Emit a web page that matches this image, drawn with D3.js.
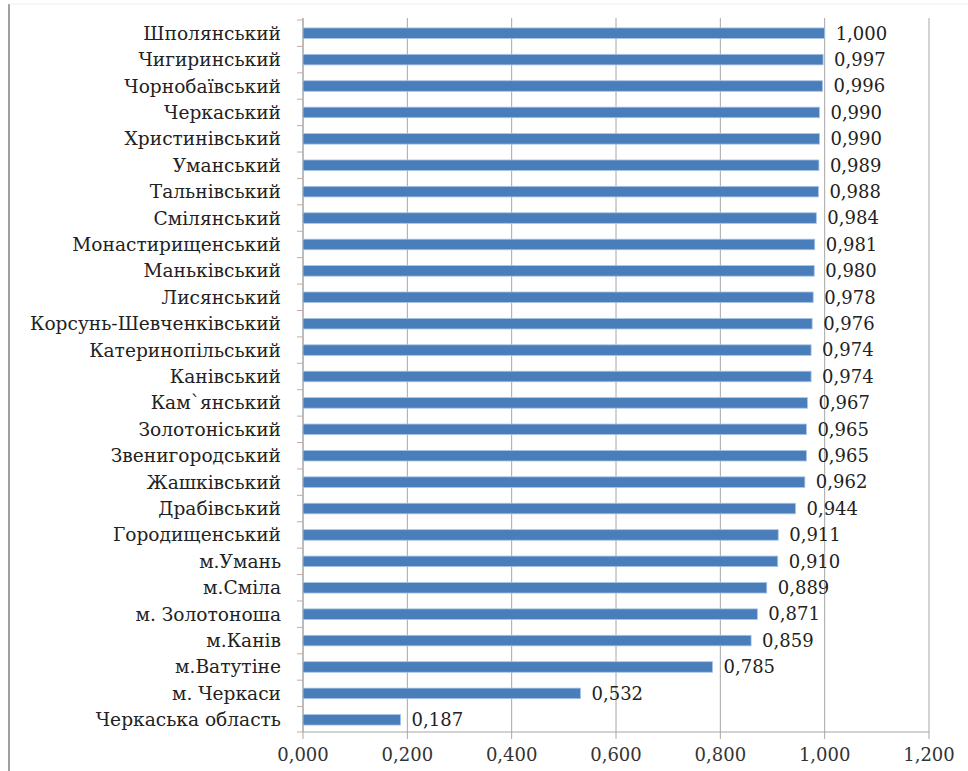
<!DOCTYPE html>
<html>
<head>
<meta charset="utf-8">
<script src="https://cdn.jsdelivr.net/npm/d3@7"></script>
<style>
  body { margin: 0; background: #fff; }
</style>
</head>
<body>
<svg id="chart" width="968" height="771"></svg>
<script>
// Districts and cities of Cherkasy region, top to bottom
const categories = [
  "Шполянський", "Чигиринський", "Чорнобаївський", "Черкаський", "Христинівський",
  "Уманський", "Тальнівський", "Смілянський", "Монастирищенський", "Маньківський",
  "Лисянський", "Корсунь-Шевченківський", "Катеринопільський", "Канівський",
  "Кам`янський", "Золотоніський", "Звенигородський", "Жашківський", "Драбівський",
  "Городищенський", "м.Умань", "м.Сміла", "м. Золотоноша", "м.Канів", "м.Ватутіне",
  "м. Черкаси", "Черкаська область"
];
const values = [
  1.000, 0.997, 0.996, 0.990, 0.990, 0.989, 0.988, 0.984, 0.981, 0.980,
  0.978, 0.976, 0.974, 0.974, 0.967, 0.965, 0.965, 0.962, 0.944, 0.911,
  0.910, 0.889, 0.871, 0.859, 0.785, 0.532, 0.187
];
const tickValues = [0, 0.2, 0.4, 0.6, 0.8, 1.0, 1.2];

const FONT = "'DejaVu Serif', 'Liberation Serif', serif";
const fmt = v => d3.format(".3f")(v).replace(".", ",");
const data = categories.map((c, i) => ({ name: c, value: values[i] }));

const svg = d3.select("#chart");
const plotLeft = 303, plotRight = 929, plotTop = 18, plotBottom = 732;

const x = d3.scaleLinear().domain([0, 1.2]).range([plotLeft, plotRight]);
const y = d3.scaleBand().domain(categories).range([plotTop + 2, plotBottom + 1]).paddingInner(0.6).paddingOuter(0.3);
const yOuter = d3.scaleBand().domain(categories).range([plotTop + 2, plotBottom + 1]);

// outer frame (left edge)
svg.append("line").attr("x1", 9).attr("x2", 9).attr("y1", 4).attr("y2", 771)
  .attr("stroke", "#a0a0a0").attr("stroke-width", 2);
svg.append("line").attr("x1", 9).attr("x2", 968).attr("y1", 4).attr("y2", 4)
  .attr("stroke", "#eeeeee").attr("stroke-width", 1);

// vertical gridlines with ticks below the axis
svg.append("g").selectAll("line").data(tickValues).join("line")
  .attr("x1", d => x(d)).attr("x2", d => x(d))
  .attr("y1", plotTop).attr("y2", plotBottom + 7)
  .attr("stroke", "#a6a6a6").attr("stroke-width", 1);

// bottom axis line
svg.append("line").attr("x1", plotLeft).attr("x2", plotRight).attr("y1", plotBottom).attr("y2", plotBottom)
  .attr("stroke", "#a6a6a6");

// left axis line and category tick marks
svg.append("line").attr("x1", plotLeft).attr("x2", plotLeft).attr("y1", plotTop).attr("y2", plotBottom)
  .attr("stroke", "#a6a6a6");
const bounds = categories.map(c => yOuter(c)).concat([plotBottom]);
svg.append("g").selectAll("line").data(bounds).join("line")
  .attr("x1", plotLeft - 6).attr("x2", plotLeft)
  .attr("y1", d => d).attr("y2", d => d)
  .attr("stroke", "#c9a9a9");

// x tick labels
svg.append("g").selectAll("text").data(tickValues).join("text")
  .attr("x", d => x(d)).attr("y", plotBottom + 29)
  .attr("text-anchor", "middle").attr("font-size", 18)
  .style("font-family", FONT).attr("fill", "#333")
  .text(d => fmt(d));

// bars
svg.append("g").selectAll("rect").data(data).join("rect")
  .attr("x", x(0)).attr("y", d => y(d.name))
  .attr("width", d => x(d.value) - x(0)).attr("height", y.bandwidth())
  .attr("fill", "#4a7ebb").attr("stroke", "#a9c4e6").attr("stroke-width", 0.8);

// category labels
svg.append("g").selectAll("text").data(data).join("text")
  .attr("x", 281).attr("y", d => y(d.name) + y.bandwidth() / 2)
  .attr("dy", "0.35em").attr("text-anchor", "end").attr("font-size", 18.6)
  .style("font-family", FONT).attr("fill", "#222")
  .text(d => d.name);

// value labels
svg.append("g").selectAll("text").data(data).join("text")
  .attr("x", d => x(d.value) + 11).attr("y", d => y(d.name) + y.bandwidth() / 2)
  .attr("dy", "0.35em").attr("text-anchor", "start").attr("font-size", 18)
  .style("font-family", FONT).attr("fill", "#222")
  .text(d => fmt(d.value));
</script>
</body>
</html>
